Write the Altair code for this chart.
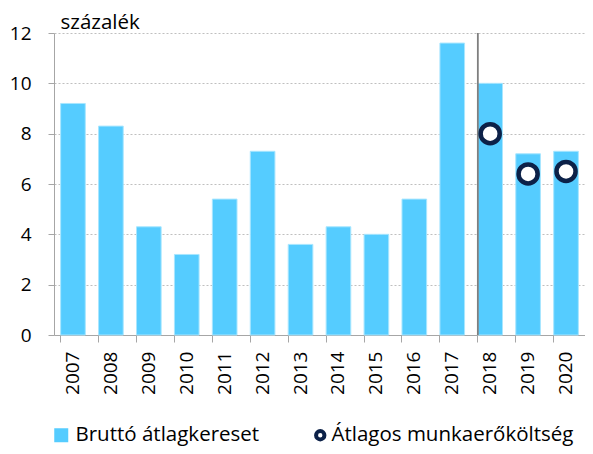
import altair as alt
import pandas as pd

years = ["2007", "2008", "2009", "2010", "2011", "2012", "2013",
         "2014", "2015", "2016", "2017", "2018", "2019", "2020"]
brutto = [9.2, 8.3, 4.3, 3.2, 5.4, 7.3, 3.6, 4.3, 4.0, 5.4, 11.6, 10.0, 7.2, 7.3]

cost_years = ["2018", "2019", "2020"]
cost = [8.0, 6.4, 6.5]

divider_year = ["2018"]

bar_label = "Bruttó átlagkereset"
cost_label = "Átlagos munkaerőköltség"
y_title = "százalék"

bars_df = pd.DataFrame({"year": years, "value": brutto, "series": bar_label})
cost_df = pd.DataFrame({"year": cost_years, "value": cost, "series": cost_label})
div_df = pd.DataFrame({"year": divider_year})

FONT = "Open Sans"

x_scale = alt.Scale(domain=years, paddingInner=0.35, paddingOuter=0.175)
y_scale = alt.Scale(domain=[0, 12], nice=False)

x_axis = alt.Axis(
    title=None, labelAngle=-90, labelFont=FONT, labelFontSize=19,
    labelColor="black", labelPadding=9, tickSize=7, tickColor="#A6A6A6",
    domainColor="#A6A6A6", bandPosition=0, grid=False,
)
y_axis = alt.Axis(
    title=y_title, titleAngle=0, titleAlign="left", titleBaseline="alphabetic",
    titleX=6, titleY=-5, titleFont=FONT, titleFontSize=20.5,
    titleFontWeight="normal", titleColor="black",
    values=[0, 2, 4, 6, 8, 10, 12], labelFont=FONT, labelFontSize=19,
    labelColor="black", labelPadding=17, tickSize=6, tickColor="#A6A6A6",
    domainColor="#A6A6A6", grid=True, gridColor="#BFBFBF", gridDash=[2, 2],
    gridWidth=1,
)

bars = alt.Chart(bars_df).mark_bar(stroke="#A8E6FF", strokeWidth=1).encode(
    x=alt.X("year:N", scale=x_scale, axis=x_axis, sort=years),
    y=alt.Y("value:Q", scale=y_scale, axis=y_axis),
    fill=alt.Fill(
        "series:N",
        scale=alt.Scale(domain=[bar_label], range=["#55CCFF"]),
        legend=alt.Legend(
            title=None, orient="none", legendX=-3, legendY=392,
            symbolType="square", symbolSize=196, symbolStrokeWidth=0,
            labelFont=FONT, labelFontSize=20.5, labelColor="black",
            labelOffset=4, padding=0, labelLimit=0,
        ),
    ),
)

divider = alt.Chart(div_df).mark_rule(color="#7F7F7F", strokeWidth=1.8).encode(
    x=alt.X("year:N", bandPosition=0, sort=years),
)

points = alt.Chart(cost_df).mark_point(
    shape="circle", size=363, strokeWidth=4.5, fill="white", fillOpacity=1, opacity=1
).encode(
    x=alt.X("year:N", sort=years),
    y=alt.Y("value:Q"),
    stroke=alt.Stroke(
        "series:N",
        scale=alt.Scale(domain=[cost_label], range=["#0C2148"]),
        legend=alt.Legend(
            title=None, orient="none", legendX=256, legendY=392,
            symbolType="circle", symbolSize=70, symbolStrokeWidth=4,
            symbolFillColor="white", labelFont=FONT, labelFontSize=20.5,
            labelColor="black", labelOffset=1, padding=0, labelLimit=0,
        ),
    ),
)

chart = alt.layer(bars, divider, points).properties(
    width=531, height=302,
    autosize=alt.AutoSizeParams(type="none"),
    padding={"left": 46, "top": 25, "right": 0, "bottom": 111},
).configure_view(stroke=None).resolve_scale(fill="independent", stroke="independent")

chart.save("out.html", embed_options={"renderer": "svg", "actions": False})
